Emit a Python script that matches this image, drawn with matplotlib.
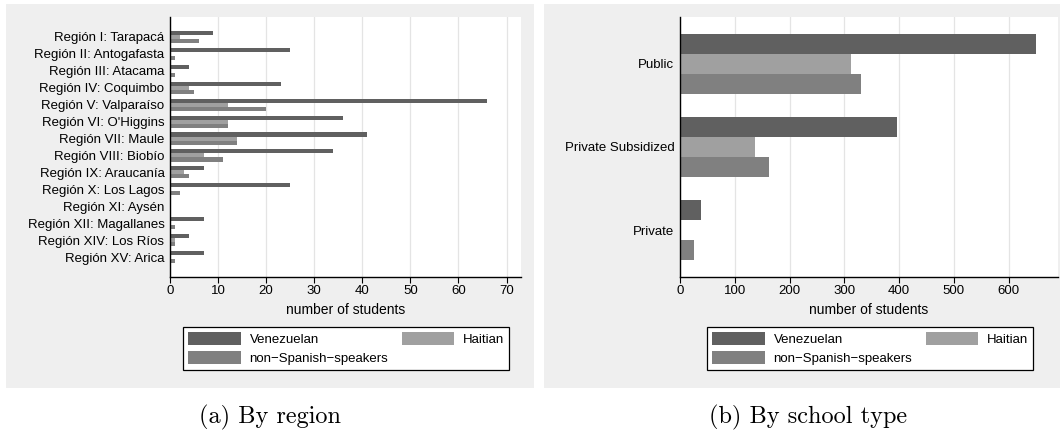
"""Grouped horizontal bar charts of student counts by region and by school type."""

import matplotlib

matplotlib.use("Agg")
import matplotlib.pyplot as plt
import numpy as np
from matplotlib.patches import Patch, Rectangle

plt.rcParams["font.family"] = ["Liberation Sans", "DejaVu Sans"]

# counts by region
regions = [
    "Región I: Tarapacá",
    "Región II: Antogafasta",
    "Región III: Atacama",
    "Región IV: Coquimbo",
    "Región V: Valparaíso",
    "Región VI: O'Higgins",
    "Región VII: Maule",
    "Región VIII: Biobío",
    "Región IX: Araucanía",
    "Región X: Los Lagos",
    "Región XI: Aysén",
    "Región XII: Magallanes",
    "Región XIV: Los Ríos",
    "Región XV: Arica",
]
region_venezuelan = [9, 25, 4, 23, 66, 36, 41, 34, 7, 25, 0, 7, 4, 7]
region_haitian = [2, 0, 0, 4, 12, 12, 14, 7, 3, 0, 0, 0, 1, 0]
region_non_spanish = [6, 1, 1, 5, 20, 12, 14, 11, 4, 2, 0, 1, 1, 1]

# counts by school type
school_types = ["Public", "Private Subsidized", "Private"]
school_venezuelan = [650, 397, 38]
school_haitian = [313, 137, 0]
school_non_spanish = [331, 162, 26]

series_labels = ["Venezuelan", "Haitian", "non\u2212Spanish\u2212speakers"]
series_colors = ["#606060", "#a0a0a0", "#808080"]

W, H = 1061, 434
PANEL = "#efefef"


def px_box(x0, y0, x1, y1):
    """Figure-fraction rectangle from pixel coordinates (origin top-left)."""
    return [x0 / W, 1 - y1 / H, (x1 - x0) / W, (y1 - y0) / H]


def draw_panel(fig, box, categories, series, xmax, xticks, legend_px, caption, caption_x):
    axis = fig.add_axes(px_box(*box))
    n = len(categories)
    pos = np.arange(n)
    bar_h = 0.24
    for k, (values, color) in enumerate(zip(series, series_colors)):
        axis.barh(pos + (k - 1) * bar_h, values, height=bar_h, color=color,
                  edgecolor="none", zorder=2)
    axis.set_yticks(pos)
    axis.set_yticklabels(categories, fontsize=9.5)
    pad = 1.18 if n > 5 else 0.56
    axis.set_ylim(n - 1 + pad, -pad)
    axis.set_xlim(0, xmax)
    axis.set_xticks(xticks)
    axis.tick_params(axis="x", labelsize=9.5, length=4, width=0.8, pad=2,
                     direction="out", color="black")
    axis.tick_params(axis="y", length=0, pad=4)
    for side in ("top", "right"):
        axis.spines[side].set_visible(False)
    for side in ("left", "bottom"):
        axis.spines[side].set_linewidth(1.0)
        axis.spines[side].set_color("black")
    axis.grid(axis="x", color="#e4e4e4", linewidth=0.9, zorder=0)
    axis.set_axisbelow(True)
    axis.set_xlabel("number of students", fontsize=10, labelpad=4)

    handles = [Patch(facecolor=c, edgecolor="none") for c in series_colors]
    order = [0, 2, 1]
    lx0, ly0 = legend_px
    fig.legend(
        [handles[i] for i in order],
        [series_labels[i] for i in order],
        ncol=2,
        loc="upper left",
        bbox_to_anchor=(lx0 / W, 1 - ly0 / H),
        fontsize=9.5,
        frameon=True,
        fancybox=False,
        edgecolor="black",
        framealpha=1.0,
        handlelength=4.0,
        handleheight=1.1,
        handletextpad=0.65,
        columnspacing=1.0,
        labelspacing=0.4,
        borderpad=0.4,
        borderaxespad=0,
    ).get_frame().set_linewidth(0.9)

    fig.text(caption_x / W, 1 - 417 / H, caption, ha="center", va="center",
             fontsize=17.5, family="cmr10")
    return axis


fig = plt.figure(figsize=(W / 100, H / 100), dpi=100)
fig.patches.append(Rectangle((6 / W, 1 - 388 / H), (534 - 6) / W, (388 - 4) / H,
                             transform=fig.transFigure, facecolor=PANEL,
                             edgecolor="none", zorder=-1))
fig.patches.append(Rectangle((544 / W, 1 - 388 / H), (1060 - 544) / W, (388 - 4) / H,
                             transform=fig.transFigure, facecolor=PANEL,
                             edgecolor="none", zorder=-1))

draw_panel(
    fig, (170, 17, 521, 277), regions,
    [region_venezuelan, region_haitian, region_non_spanish],
    73, range(0, 71, 10), (183, 327), "(a) By region", 270,
)
draw_panel(
    fig, (680, 17, 1058, 277), school_types,
    [school_venezuelan, school_haitian, school_non_spanish],
    690, range(0, 601, 100), (707, 327), "(b) By school type", 808,
)

fig.savefig("out.png", dpi=100)
